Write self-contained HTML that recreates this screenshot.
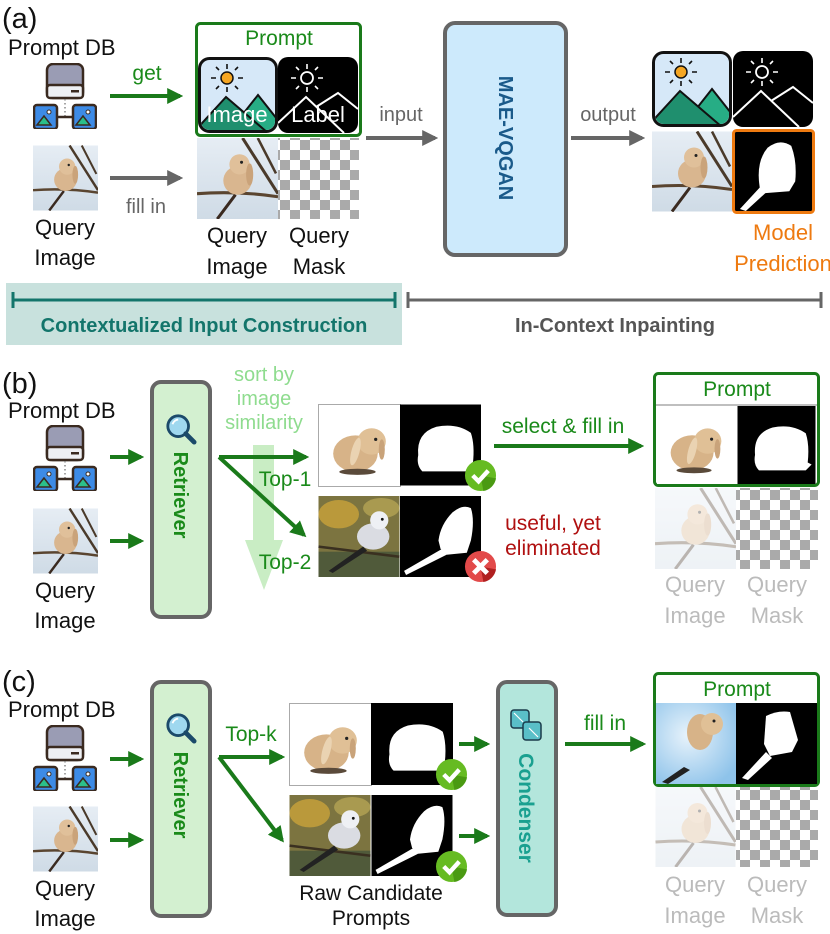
<!DOCTYPE html>
<html><head><meta charset="utf-8">
<style>
html,body{margin:0;padding:0;background:#fff;}
svg{display:block;font-family:"Liberation Sans",sans-serif;}
</style></head><body>
<svg width="830" height="934" viewBox="0 0 830 934" xmlns="http://www.w3.org/2000/svg">
<defs>
  <marker id="ag" viewBox="0 0 10 10" refX="8" refY="5" markerWidth="4" markerHeight="4" orient="auto"><path d="M0,0 L10,5 L0,10 Z" fill="#1a7a1a"/></marker>
  <marker id="agr" viewBox="0 0 10 10" refX="8" refY="5" markerWidth="4" markerHeight="4" orient="auto"><path d="M0,0 L10,5 L0,10 Z" fill="#666"/></marker>
  <pattern id="chk" x="0" y="0" width="20" height="20" patternUnits="userSpaceOnUse">
    <rect width="20" height="20" fill="#fff"/><rect width="10" height="10" fill="#aaa"/><rect x="10" y="10" width="10" height="10" fill="#aaa"/>
  </pattern>
  <linearGradient id="sky" x1="0" y1="0" x2="0" y2="1"><stop offset="0" stop-color="#e6edf4"/><stop offset="1" stop-color="#cfdbe6"/></linearGradient>
  <radialGradient id="blu" cx="0.4" cy="0.4" r="0.7"><stop offset="0" stop-color="#e8f3fb"/><stop offset="1" stop-color="#8ec3ea"/></radialGradient>
  <symbol id="db" viewBox="0 0 64 66">
    <rect x="14" y="1" width="36" height="34" rx="6" fill="#9a9cb4" stroke="#3a2a20" stroke-width="2.5"/>
    <rect x="14" y="22" width="36" height="13" rx="3" fill="#eef0f4" stroke="#3a2a20" stroke-width="2.5"/>
    <rect x="38" y="27" width="8" height="2.5" fill="#3a2a20"/>
    <line x1="32" y1="36" x2="32" y2="54" stroke="#888" stroke-dasharray="1.5 2.5" stroke-width="1.5"/>
    <line x1="24" y1="54" x2="40" y2="54" stroke="#3a2a20" stroke-width="2.5"/>
    <rect x="1" y="42" width="23" height="24" rx="3" fill="#3d8be6" stroke="#3a2a20" stroke-width="2.5"/>
    <path d="M4,62 L11,53 L18,62 Z" fill="#2bbf8a" stroke="#3a2a20" stroke-width="1.5"/><circle cx="16" cy="49" r="2" fill="#fff" stroke="#3a2a20"/>
    <rect x="40" y="42" width="23" height="24" rx="3" fill="#3d8be6" stroke="#3a2a20" stroke-width="2.5"/>
    <path d="M43,62 L50,53 L57,62 Z" fill="#2bbf8a" stroke="#3a2a20" stroke-width="1.5"/><circle cx="55" cy="49" r="2" fill="#fff" stroke="#3a2a20"/>
  </symbol>
  <symbol id="qimg" viewBox="0 0 80 80">
    <rect width="80" height="80" fill="url(#sky)"/>
    <path d="M45,0 L80,55" stroke="#4a3a2a" stroke-width="3"/><path d="M60,0 L78,35" stroke="#4a3a2a" stroke-width="2.5"/>
    <path d="M0,55 Q40,52 80,58" stroke="#5a4530" stroke-width="3" fill="none"/>
    <path d="M20,80 L38,56" stroke="#3a2a20" stroke-width="3"/>
    <ellipse cx="40" cy="42" rx="14" ry="14" fill="#d9b68f"/><ellipse cx="42" cy="26" rx="10" ry="10" fill="#e0c09a"/>
    <ellipse cx="52" cy="36" rx="3.5" ry="11" fill="#caa37a"/><circle cx="44" cy="24" r="1.5" fill="#222"/>
  </symbol>
  <symbol id="rab" viewBox="0 0 80 80">
    <rect width="80" height="80" fill="#fff"/>
    <ellipse cx="36" cy="48" rx="22" ry="18" fill="#d7b388"/><ellipse cx="52" cy="36" rx="14" ry="13" fill="#e0c096"/>
    <ellipse cx="36" cy="46" rx="4" ry="14" fill="#ead3b2" transform="rotate(15 36 46)"/>
    <ellipse cx="62" cy="44" rx="3" ry="10" fill="#c9a37a"/><circle cx="56" cy="34" r="1.6" fill="#222"/>
    <ellipse cx="38" cy="66" rx="18" ry="3" fill="#5a4a3a"/>
  </symbol>
  <symbol id="rabm" viewBox="0 0 80 80">
    <rect width="80" height="80" fill="#000"/>
    <path d="M18,50 Q16,28 36,22 Q56,18 70,28 Q74,40 72,58 L76,60 L70,66 L22,66 Q16,60 18,50 Z" fill="#fff"/>
  </symbol>
  <symbol id="predm" viewBox="0 0 80 80">
    <rect width="80" height="80" fill="#000"/>
    <path d="M26,56 Q22,30 34,16 Q46,6 58,14 Q64,30 62,50 L56,60 L30,62 Z" fill="#fff"/>
    <path d="M30,52 L6,78 L12,80 L36,58 Z" fill="#fff"/>
  </symbol>
  <symbol id="bird" viewBox="0 0 80 80">
    <rect width="80" height="80" fill="#7c7440"/>
    <ellipse cx="20" cy="18" rx="20" ry="14" fill="#c9a23a" opacity="0.8"/><ellipse cx="62" cy="12" rx="18" ry="10" fill="#a99a50"/>
    <rect y="55" width="80" height="25" fill="#505a3a"/>
    <path d="M0,50 Q40,55 80,60" stroke="#3a3020" stroke-width="2.5" fill="none"/>
    <ellipse cx="54" cy="40" rx="16" ry="13" fill="#dadce2"/><circle cx="60" cy="24" r="9" fill="#eef0f4"/>
    <path d="M44,50 L10,74 L14,76 L48,54 Z" fill="#222"/><circle cx="63" cy="23" r="1.4" fill="#111"/>
  </symbol>
  <symbol id="birdm" viewBox="0 0 80 80">
    <rect width="80" height="80" fill="#000"/>
    <path d="M38,44 Q40,28 52,16 Q62,8 70,12 Q74,24 70,44 L66,56 L46,58 L40,52 Z" fill="#fff"/>
    <path d="M42,52 L4,74 L6,78 L46,58 Z" fill="#fff"/>
  </symbol>
  <symbol id="mtn" viewBox="0 0 80 76">
    <rect x="1.5" y="1.5" width="77" height="73" rx="10" fill="#d6e8f8" stroke="#111" stroke-width="3"/>
    <clipPath id="mc"><rect x="3" y="3" width="74" height="70" rx="9"/></clipPath>
    <g clip-path="url(#mc)">
      <path d="M30,76 L60,38 L90,76 Z" fill="#27ad85" stroke="#111" stroke-width="2"/>
      <path d="M-5,76 L28,40 L70,76 Z" fill="#1f8f6e" stroke="#111" stroke-width="2"/>
    </g>
    <g stroke="#111" stroke-width="1.6"><path d="M29,12 V7 M29,30 V35 M18,21 H13 M40,21 H45 M21,13 L18,10 M37,13 L40,10 M21,29 L18,32 M37,29 L40,32"/></g>
    <circle cx="29" cy="21" r="6" fill="#f5a623" stroke="#111" stroke-width="1.5"/>
  </symbol>
  <symbol id="mtnb" viewBox="0 0 80 76">
    <rect x="0" y="0" width="80" height="76" rx="10" fill="#000"/>
    <path d="M0,66 L28,40 L66,76 M38,50 L60,36 L80,52" stroke="#fff" stroke-width="2" fill="none"/>
    <g stroke="#fff" stroke-width="1.6"><path d="M29,12 V7 M29,30 V35 M18,21 H13 M40,21 H45 M21,13 L18,10 M37,13 L40,10 M21,29 L18,32 M37,29 L40,32"/></g>
    <circle cx="29" cy="21" r="6" fill="none" stroke="#fff" stroke-width="1.8"/>
  </symbol>
  <symbol id="chkok" viewBox="0 0 34 34"><circle cx="17" cy="17" r="16" fill="#66bb22"/><path d="M17,17 L33,20 A16,16 0 0 1 20,33 Z" fill="#4a9a12"/><path d="M9,17 L15,23 L25,12" stroke="#fff" stroke-width="4.5" fill="none"/></symbol>
  <symbol id="chkx" viewBox="0 0 34 34"><circle cx="17" cy="17" r="16" fill="#e24a4a"/><path d="M17,17 L33,20 A16,16 0 0 1 20,33 Z" fill="#b02020"/><path d="M10,10 L24,24 M24,10 L10,24" stroke="#fff" stroke-width="5"/></symbol>
  <symbol id="mag" viewBox="0 0 34 34"><circle cx="14" cy="14" r="11" fill="#9fd8ef" stroke="#1b4a6a" stroke-width="3"/><path d="M22,22 L31,31" stroke="#1b4a6a" stroke-width="5" stroke-linecap="round"/><path d="M8,12 A7,7 0 0 1 14,7" stroke="#fff" stroke-width="2" fill="none"/></symbol>
</defs>

<!-- ===== (a) ===== -->
<text x="2" y="28" font-size="29" fill="#111">(a)</text>
<text x="8" y="55" font-size="22" fill="#111">Prompt DB</text>
<use href="#db" x="33" y="63" width="64" height="66"/>
<line x1="110" y1="96" x2="180" y2="96" stroke="#1a7a1a" stroke-width="4" marker-end="url(#ag)"/>
<text x="147" y="80" font-size="21" fill="#1a8a1a" text-anchor="middle">get</text>
<use href="#qimg" x="33" y="145" width="65" height="66"/>
<text x="65" y="235" font-size="22" fill="#111" text-anchor="middle">Query</text>
<text x="65" y="265" font-size="22" fill="#111" text-anchor="middle">Image</text>
<line x1="110" y1="178" x2="180" y2="178" stroke="#666" stroke-width="4" marker-end="url(#agr)"/>
<text x="146" y="213" font-size="20" fill="#666" text-anchor="middle">fill in</text>

<rect x="196.5" y="23.5" width="164" height="112" rx="4" fill="#fff" stroke="#1a7a1a" stroke-width="3"/>
<text x="279" y="45" font-size="21" fill="#1a8a1a" text-anchor="middle">Prompt</text>
<use href="#mtn" x="198" y="57" width="80" height="76"/>
<use href="#mtnb" x="278" y="57" width="80" height="76"/>
<text x="237" y="122" font-size="22" fill="#fff" text-anchor="middle">Image</text>
<text x="318" y="122" font-size="22" fill="#fff" text-anchor="middle">Label</text>
<use href="#qimg" x="197" y="138" width="81" height="81"/>
<rect x="278" y="138" width="81" height="81" fill="url(#chk)"/>
<text x="237" y="243" font-size="22" fill="#111" text-anchor="middle">Query</text>
<text x="237" y="274" font-size="22" fill="#111" text-anchor="middle">Image</text>
<text x="319" y="243" font-size="22" fill="#111" text-anchor="middle">Query</text>
<text x="319" y="274" font-size="22" fill="#111" text-anchor="middle">Mask</text>

<line x1="366" y1="138" x2="435" y2="138" stroke="#666" stroke-width="4" marker-end="url(#agr)"/>
<text x="401" y="121" font-size="20" fill="#666" text-anchor="middle">input</text>
<rect x="445" y="23" width="121" height="232" rx="10" fill="#cdeafc" stroke="#666" stroke-width="4"/>
<text transform="translate(499,138) rotate(90)" font-size="20" font-weight="bold" fill="#1a5a8a" text-anchor="middle">MAE-VQGAN</text>
<line x1="571" y1="138" x2="642" y2="138" stroke="#666" stroke-width="4" marker-end="url(#agr)"/>
<text x="608" y="121" font-size="20" fill="#666" text-anchor="middle">output</text>
<use href="#mtn" x="652" y="50" width="80" height="78"/>
<use href="#mtnb" x="733" y="50" width="80" height="78"/>
<use href="#qimg" x="652" y="131" width="80" height="81"/>
<use href="#predm" x="734" y="131" width="79" height="81"/>
<rect x="733.5" y="130.5" width="80" height="82" rx="3" fill="none" stroke="#ee7a10" stroke-width="3"/>
<text x="783" y="240" font-size="22" fill="#ee7a10" text-anchor="middle">Model</text>
<text x="783" y="271" font-size="22" fill="#ee7a10" text-anchor="middle">Prediction</text>

<rect x="6" y="283" width="396" height="62" fill="#c8e1dd"/>
<line x1="13" y1="300" x2="395" y2="300" stroke="#13756b" stroke-width="3"/>
<line x1="13" y1="292" x2="13" y2="308" stroke="#13756b" stroke-width="3"/>
<line x1="395" y1="292" x2="395" y2="308" stroke="#13756b" stroke-width="3"/>
<text x="204" y="332" font-size="20" font-weight="bold" fill="#13756b" text-anchor="middle">Contextualized Input Construction</text>
<line x1="408" y1="300" x2="821" y2="300" stroke="#666" stroke-width="3"/>
<line x1="408" y1="292" x2="408" y2="308" stroke="#666" stroke-width="3"/>
<line x1="821" y1="292" x2="821" y2="308" stroke="#666" stroke-width="3"/>
<text x="615" y="332" font-size="20" font-weight="bold" fill="#555" text-anchor="middle">In-Context Inpainting</text>

<!-- ===== (b) ===== -->
<text x="2" y="393" font-size="29" fill="#111">(b)</text>
<text x="8" y="418" font-size="22" fill="#111">Prompt DB</text>
<use href="#db" x="33" y="425" width="64" height="66"/>
<use href="#qimg" x="33" y="508" width="65" height="66"/>
<text x="65" y="598" font-size="22" fill="#111" text-anchor="middle">Query</text>
<text x="65" y="628" font-size="22" fill="#111" text-anchor="middle">Image</text>
<line x1="110" y1="457" x2="141" y2="457" stroke="#1a7a1a" stroke-width="4" marker-end="url(#ag)"/>
<line x1="110" y1="541" x2="141" y2="541" stroke="#1a7a1a" stroke-width="4" marker-end="url(#ag)"/>
<rect x="152" y="382" width="58" height="235" rx="9" fill="#d3f0d0" stroke="#666" stroke-width="4"/>
<use href="#mag" x="165" y="413" width="32" height="32"/>
<text transform="translate(174,495) rotate(90)" font-size="20" font-weight="bold" fill="#1a8a1a" text-anchor="middle">Retriever</text>

<text x="264" y="381" font-size="20" fill="#8fdc8f" text-anchor="middle">sort by</text>
<text x="264" y="405" font-size="20" fill="#8fdc8f" text-anchor="middle">image</text>
<text x="264" y="429" font-size="20" fill="#8fdc8f" text-anchor="middle">similarity</text>
<path d="M253,445 H274 V540 H283 L264,590 L245,540 H253 Z" fill="#c9edc4"/>
<path d="M219,457 H306" stroke="#1a7a1a" stroke-width="4" marker-end="url(#ag)"/>
<path d="M219,457 L304,535" stroke="#1a7a1a" stroke-width="4" marker-end="url(#ag)"/>
<text x="285" y="486" font-size="21" fill="#1a8a1a" text-anchor="middle">Top-1</text>
<text x="285" y="569" font-size="21" fill="#1a8a1a" text-anchor="middle">Top-2</text>
<use href="#rab" x="319" y="405" width="81" height="81"/>
<rect x="318.5" y="404.5" width="82" height="82" fill="none" stroke="#aaa" stroke-width="1"/>
<use href="#rabm" x="400" y="404" width="81" height="82"/>
<use href="#bird" x="318" y="496" width="82" height="81"/>
<use href="#birdm" x="400" y="496" width="81" height="81"/>
<use href="#chkok" x="464" y="459" width="33" height="33"/>
<use href="#chkx" x="464" y="550" width="33" height="33"/>
<text x="553" y="530" font-size="21" fill="#b01010" text-anchor="middle">useful, yet</text>
<text x="553" y="555" font-size="21" fill="#b01010" text-anchor="middle">eliminated</text>
<text x="563" y="433" font-size="21" fill="#1a8a1a" text-anchor="middle">select &amp; fill in</text>
<line x1="494" y1="446" x2="641" y2="446" stroke="#1a7a1a" stroke-width="4" marker-end="url(#ag)"/>
<rect x="654.5" y="373.5" width="164" height="112" rx="4" fill="#fff" stroke="#1a7a1a" stroke-width="3"/>
<text x="737" y="396" font-size="21" fill="#1a8a1a" text-anchor="middle">Prompt</text>
<line x1="656" y1="405" x2="817" y2="405" stroke="#aaa" stroke-width="1.5"/>
<use href="#rab" x="656" y="406" width="80" height="78"/>
<use href="#rabm" x="736" y="406" width="81" height="78"/>
<g opacity="0.35"><use href="#qimg" x="655" y="488" width="81" height="81"/></g>
<rect x="736" y="488" width="82" height="81" fill="url(#chk)"/>
<text x="695" y="592" font-size="22" fill="#bbb" text-anchor="middle">Query</text>
<text x="695" y="623" font-size="22" fill="#bbb" text-anchor="middle">Image</text>
<text x="777" y="592" font-size="22" fill="#bbb" text-anchor="middle">Query</text>
<text x="777" y="623" font-size="22" fill="#bbb" text-anchor="middle">Mask</text>

<!-- ===== (c) ===== -->
<text x="2" y="691" font-size="29" fill="#111">(c)</text>
<text x="8" y="717" font-size="22" fill="#111">Prompt DB</text>
<use href="#db" x="33" y="725" width="64" height="66"/>
<use href="#qimg" x="33" y="806" width="65" height="66"/>
<text x="65" y="896" font-size="22" fill="#111" text-anchor="middle">Query</text>
<text x="65" y="926" font-size="22" fill="#111" text-anchor="middle">Image</text>
<line x1="110" y1="759" x2="141" y2="759" stroke="#1a7a1a" stroke-width="4" marker-end="url(#ag)"/>
<line x1="110" y1="840" x2="141" y2="840" stroke="#1a7a1a" stroke-width="4" marker-end="url(#ag)"/>
<rect x="152" y="682" width="58" height="234" rx="9" fill="#d3f0d0" stroke="#666" stroke-width="4"/>
<use href="#mag" x="165" y="712" width="32" height="32"/>
<text transform="translate(174,795) rotate(90)" font-size="20" font-weight="bold" fill="#1a8a1a" text-anchor="middle">Retriever</text>
<text x="251" y="741" font-size="21" fill="#1a8a1a" text-anchor="middle">Top-k</text>
<path d="M219,757 H282" stroke="#1a7a1a" stroke-width="4" marker-end="url(#ag)"/>
<path d="M219,757 L282,840" stroke="#1a7a1a" stroke-width="4" marker-end="url(#ag)"/>
<use href="#rab" x="290" y="704" width="81" height="81"/>
<rect x="289.5" y="703.5" width="82" height="82" fill="none" stroke="#aaa" stroke-width="1"/>
<use href="#rabm" x="371" y="703" width="82" height="82"/>
<use href="#bird" x="289" y="795" width="82" height="81"/>
<use href="#birdm" x="371" y="795" width="82" height="81"/>
<use href="#chkok" x="435" y="758" width="33" height="33"/>
<use href="#chkok" x="435" y="850" width="33" height="33"/>
<text x="371" y="900" font-size="21" fill="#111" text-anchor="middle">Raw Candidate</text>
<text x="371" y="925" font-size="21" fill="#111" text-anchor="middle">Prompts</text>
<line x1="459" y1="744" x2="487" y2="744" stroke="#1a7a1a" stroke-width="4" marker-end="url(#ag)"/>
<line x1="459" y1="836" x2="487" y2="836" stroke="#1a7a1a" stroke-width="4" marker-end="url(#ag)"/>
<rect x="498" y="682" width="58" height="233" rx="9" fill="#b3e6dc" stroke="#666" stroke-width="4"/>
<g transform="translate(511,710)">
  <rect x="0" y="0" width="18" height="18" rx="3" fill="#5abfc8" stroke="#1b3a4a" stroke-width="1.5"/>
  <rect x="12" y="12" width="18" height="18" rx="3" fill="#5abfc8" stroke="#1b3a4a" stroke-width="1.5"/>
  <path d="M3,3 L12,12 M27,27 L18,18" stroke="#fff" stroke-width="1.2"/>
</g>
<text transform="translate(519,808) rotate(90)" font-size="21" font-weight="bold" fill="#1aa090" text-anchor="middle">Condenser</text>
<text x="605" y="730" font-size="21" fill="#1a8a1a" text-anchor="middle">fill in</text>
<line x1="565" y1="744" x2="643" y2="744" stroke="#1a7a1a" stroke-width="4" marker-end="url(#ag)"/>
<rect x="654.5" y="673.5" width="164" height="112" rx="4" fill="#fff" stroke="#1a7a1a" stroke-width="3"/>
<text x="737" y="696" font-size="21" fill="#1a8a1a" text-anchor="middle">Prompt</text>
<rect x="656" y="703" width="80" height="81" fill="url(#blu)"/>
<ellipse cx="700" cy="732" rx="13" ry="18" fill="#d7b388"/><circle cx="712" cy="724" r="11" fill="#e0c096"/><circle cx="714" cy="721" r="1.5" fill="#222"/>
<path d="M662,782 L684,767 L690,770 L668,784 Z" fill="#222"/>
<rect x="736" y="703" width="81" height="81" fill="#000"/>
<path d="M764,744 L766,716 Q778,710 790,712 L798,740 L792,752 L770,756 Z" fill="#fff"/>
<path d="M766,752 L742,778 L748,780 L772,758 Z" fill="#fff"/>
<g opacity="0.35"><use href="#qimg" x="655" y="787" width="81" height="80"/></g>
<rect x="736" y="787" width="82" height="80" fill="url(#chk)"/>
<text x="695" y="892" font-size="22" fill="#bbb" text-anchor="middle">Query</text>
<text x="695" y="923" font-size="22" fill="#bbb" text-anchor="middle">Image</text>
<text x="777" y="892" font-size="22" fill="#bbb" text-anchor="middle">Query</text>
<text x="777" y="923" font-size="22" fill="#bbb" text-anchor="middle">Mask</text>
</svg>
</body></html>
